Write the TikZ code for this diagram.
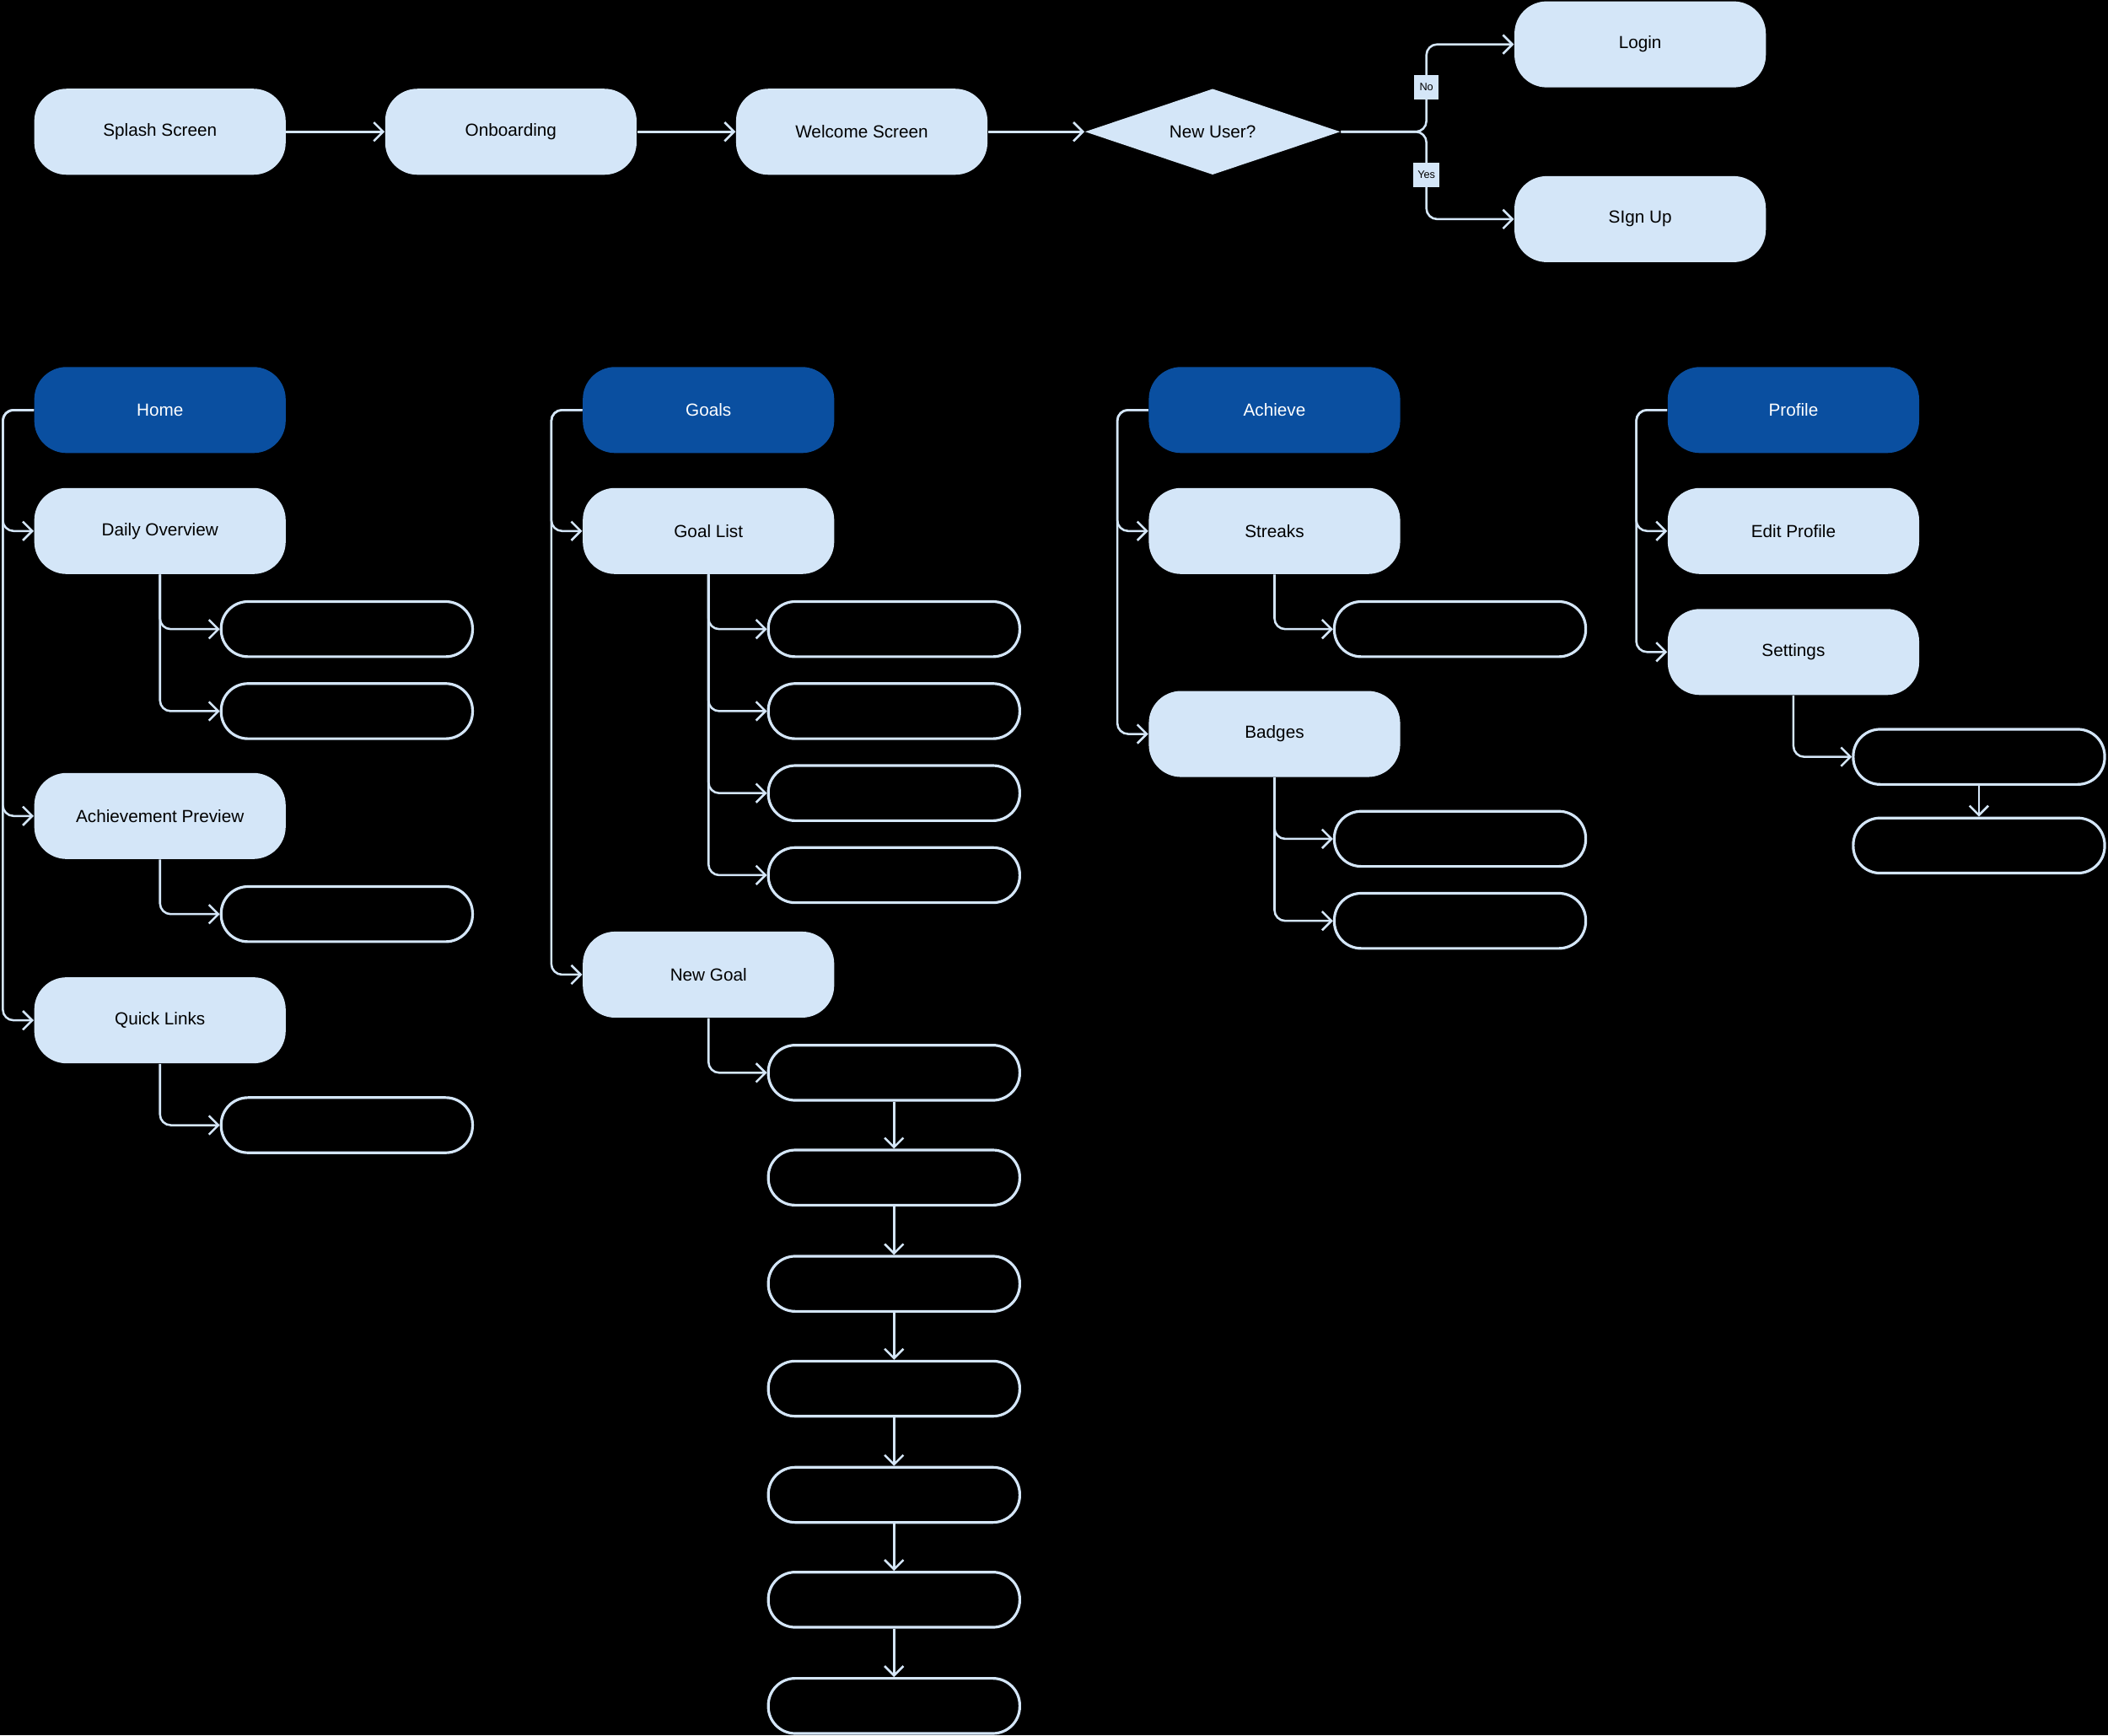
\documentclass[tikz,border=0pt]{standalone}
\usepackage{fontspec}
\setmainfont{Liberation Sans}
\usetikzlibrary{arrows.meta,shapes.geometric,positioning}
\definecolor{pale}{HTML}{D4E6F8}
\definecolor{deep}{HTML}{0A4FA0}
\tikzset{screen/.style={rounded corners=12pt,fill=pale,minimum width=93.5pt,minimum height=32pt,font=\fontsize{6.5}{8}\selectfont,text=black},
head/.style={screen,fill=deep,text=white},
blank/.style={draw=pale,line width=1pt,rounded corners=10pt,minimum width=93.5pt,minimum height=20.5pt},
arr/.style={draw=pale,line width=0.8pt,-{Straight Barb[length=3.5pt,width=7pt]},rounded corners=4pt},
tag/.style={fill=pale,font=\fontsize{4}{5}\selectfont,inner sep=1.5pt,minimum width=9pt,minimum height=9pt}}
\begin{document}
\begin{tikzpicture}[x=0.5pt,y=-0.5pt]
\fill[black] (0,0) rectangle (1568,1291);
\useasboundingbox (0,0) rectangle (1568,1291);

%TOP FLOW
\node[screen] (splash) at (119,98) {Splash Screen};
\node[screen] (onboard) at (380,98) {Onboarding};
\node[screen] (welcome) at (641,98) {Welcome Screen};
\node[diamond,aspect=3,fill=pale,minimum width=95pt,minimum height=32pt,inner sep=0pt,font=\fontsize{6.5}{8}\selectfont] (newuser) at (902,98) {New User?};
\node[screen] (login) at (1220,33) {Login};
\node[screen] (signup) at (1220,163) {SIgn Up};
\draw[arr] (splash) -- (onboard);
\draw[arr] (onboard) -- (welcome);
\draw[arr] (welcome) -- (newuser);
\draw[arr] (newuser.east) -- (1061,98) |- (login.west);
\draw[arr] (newuser.east) -- (1061,98) |- (signup.west);
\node[tag] (no) at (1061,65) {No};
\node[tag] (yes) at (1061,130) {Yes};

%HOME
\node[head] (home) at (119,305) {Home};
\node[screen] (daily) at (119,395) {Daily Overview};
\node[screen] (achprev) at (119,607) {Achievement Preview};
\node[screen] (quick) at (119,759) {Quick Links};
\foreach \c in {daily,achprev,quick}
  \draw[arr] (home.west) -- ++(-23,0) |- (\c.west);
\node[blank] (daily1) at (258,468) {};
\node[blank] (daily2) at (258,529) {};
\node[blank] (achprev1) at (258,680) {};
\node[blank] (quick1) at (258,837) {};
\foreach \c in {daily1,daily2} \draw[arr] (daily.south) |- (\c.west);
\draw[arr] (achprev.south) |- (achprev1.west);
\draw[arr] (quick.south) |- (quick1.west);

%GOALS
\node[head] (goals) at (527,305) {Goals};
\node[screen] (goallist) at (527,395) {Goal List};
\node[screen] (newgoal) at (527,725) {New Goal};
\foreach \c in {goallist,newgoal}
  \draw[arr] (goals.west) -- ++(-23,0) |- (\c.west);
\foreach \y [count=\i] in {468,529,590,651}{
  \node[blank] (list\i) at (665,\y) {};
  \draw[arr] (goallist.south) |- (list\i.west);
}
\foreach \y [count=\i] in {798,876,955,1033,1112,1190,1269}
  \node[blank] (new\i) at (665,\y) {};
\draw[arr] (newgoal.south) |- (new1.west);
\foreach \i [evaluate=\i as \j using int(\i+1)] in {1,...,6}
  \draw[arr] (new\i) -- (new\j);

%ACHIEVE
\node[head] (achieve) at (948,305) {Achieve};
\node[screen] (streaks) at (948,395) {Streaks};
\node[screen] (badges) at (948,546) {Badges};
\foreach \c in {streaks,badges}
  \draw[arr] (achieve.west) -- ++(-23,0) |- (\c.west);
\node[blank] (streak1) at (1086,468) {};
\node[blank] (badge1) at (1086,624) {};
\node[blank] (badge2) at (1086,685) {};
\draw[arr] (streaks.south) |- (streak1.west);
\foreach \c in {badge1,badge2} \draw[arr] (badges.south) |- (\c.west);

%PROFILE
\node[head] (profile) at (1334,305) {Profile};
\node[screen] (edit) at (1334,395) {Edit Profile};
\node[screen] (settings) at (1334,485) {Settings};
\foreach \c in {edit,settings}
  \draw[arr] (profile.west) -- ++(-23,0) |- (\c.west);
\node[blank] (set1) at (1472,563) {};
\node[blank] (set2) at (1472,629) {};
\draw[arr] (settings.south) |- (set1.west);
\draw[arr] (set1) -- (set2);
\end{tikzpicture}
\end{document}
